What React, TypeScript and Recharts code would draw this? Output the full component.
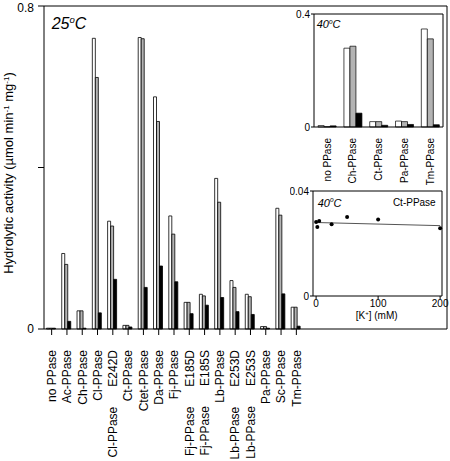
import React from "react";
import {BarChart, Bar, XAxis, YAxis, ScatterChart, Scatter} from "recharts";

// main panel, 25 C
const categories = [
	"no PPase", "Ac-PPase", "Ch-PPase", "Cl-PPase", "Cl-PPase E242D", "Ct-PPase", "Ctet-PPase", "Da-PPase", "Fj-PPase",
	"Fj-PPase E185D", "Fj-PPase E185S", "Lb-PPase", "Lb-PPase E253D", "Lb-PPase E253S", "Pa-PPase", "Sc-PPase", "Tm-PPase",
];
const openBars = [0.002, 0.187, 0.045, 0.72, 0.267, 0.009, 0.722, 0.575, 0.28, 0.066, 0.086, 0.373, 0.12, 0.086, 0.006, 0.299, 0.054];
const greyBars = [0.002, 0.16, 0.045, 0.623, 0.255, 0.009, 0.719, 0.514, 0.235, 0.066, 0.082, 0.314, 0.103, 0.08, 0.006, 0.282, 0.054];
const blackBars = [0.002, 0.019, 0.002, 0.04, 0.123, 0.005, 0.103, 0.156, 0.117, 0.038, 0.059, 0.078, 0.043, 0.036, 0.002, 0.087, 0.007];
const mainTicks = [0, 0.4, 0.8];

// inset, 40 C
const insetCategories = ["no PPase", "Ch-PPase", "Ct-PPase", "Pa-PPase", "Tm-PPase"];
const insetOpen = [0.005, 0.279, 0.019, 0.021, 0.347];
const insetGrey = [0.001, 0.286, 0.019, 0.019, 0.312];
const insetBlack = [0.004, 0.049, 0.006, 0.009, 0.008];
const insetTicks = [0, 0.4];

// inset, Ct-PPase vs [K+]
const kConc = [0, 2, 5, 25, 50, 100, 200];
const ctActivity = [0.0282, 0.0263, 0.0286, 0.0273, 0.0301, 0.0291, 0.0258];
const fitConc = [0, 200];
const fitActivity = [0.028, 0.0268];
const ctTicksX = [0, 100, 200];
const ctTicksY = [0, 0.04];

const FONT = '"Liberation Sans", Arial, Helvetica, sans-serif';
const GREY = "#b3b3b3";

const mainData = categories.map((name, i) => ({name, a: openBars[i], b: greyBars[i], c: blackBars[i]}));
const insetData = insetCategories.map((name, i) => ({name, a: insetOpen[i], b: insetGrey[i], c: insetBlack[i]}));
const ctPoints = kConc.map((k, i) => ({k, v: ctActivity[i]}));
const ctFit = fitConc.map((k, i) => ({k, v: fitActivity[i]}));

function spaced(name: string) {
	return name.replace(" E", "\u00a0".repeat(6) + "E");
}

function RotTick(props: any) {
	const {x, y, payload, size, shift} = props;
	return (
		<text
			transform={`translate(${x + shift},${y}) rotate(-90)`}
			textAnchor='end'
			fontSize={size}
			fill='#000'
			fontFamily={FONT}
		>
			{spaced(String(payload.value))}
		</text>
	);
}

function Deg({size}: {size: number}) {
	return (
		<>
			<tspan
				dy={-size * 0.4}
				fontSize={size * 0.6}
			>
				o
			</tspan>
			<tspan dy={size * 0.4}>C</tspan>
		</>
	);
}

const bars = (w: number) => [
	<Bar key='a' dataKey='a' fill='#fff' stroke='#000' strokeWidth={w} isAnimationActive={false} />,
	<Bar key='b' dataKey='b' fill={GREY} stroke='#000' strokeWidth={w} isAnimationActive={false} />,
	<Bar key='c' dataKey='c' fill='#000' stroke='#000' strokeWidth={w} isAnimationActive={false} />,
];

// top and right axes only draw the box around each panel
const frame = (numeric: boolean) => [
	<XAxis
		key='ft'
		xAxisId='top'
		orientation='top'
		type={numeric ? "number" : "category"}
		dataKey={numeric ? undefined : "name"}
		domain={numeric ? [0, 1] : undefined}
		height={1}
		tick={false}
		tickLine={false}
		stroke='#000'
	/>,
	<YAxis
		key='fr'
		yAxisId='right'
		orientation='right'
		type='number'
		domain={[0, 1]}
		width={1}
		tick={false}
		tickLine={false}
		stroke='#000'
	/>,
];

export default function App() {
	return (
		<div style={{position: "absolute", left: 0, top: 0, width: 450, height: 461, background: "#fff", fontFamily: FONT}}>
			<div style={{position: "absolute", left: 0, top: 0}}>
				<BarChart
					width={450}
					height={461}
					data={mainData}
					margin={{top: 5, right: 2, bottom: 0, left: 0}}
					barCategoryGap='16%'
					barGap={0}
				>
					<XAxis
						dataKey='name'
						interval={0}
						height={132}
						padding={{left: 0, right: 143}}
						stroke='#000'
						tickSize={6}
						tickMargin={15}
						tick={(p: any) => <RotTick {...p} size={12} shift={4.3} />}
					/>
					<YAxis
						domain={[0, 0.8]}
						ticks={mainTicks}
						width={44}
						stroke='#000'
						tickSize={6}
						tickMargin={4}
						tick={{fill: "#000", fontSize: 12}}
						tickFormatter={(v: number) => (v === 0.4 ? "" : String(v))}
					/>
					{frame(false)}
					{bars(0.8)}
				</BarChart>
			</div>

			<div style={{position: "absolute", left: 290, top: 0}}>
				<BarChart
					width={160}
					height={185}
					data={insetData}
					margin={{top: 13, right: 6, bottom: 0, left: 0}}
					barCategoryGap='16%'
					barGap={0}
				>
					<XAxis
						dataKey='name'
						interval={0}
						height={58}
						stroke='#000'
						tickLine={false}
						tickSize={0}
						tickMargin={11}
						tick={(p: any) => <RotTick {...p} size={10} shift={3.6} />}
					/>
					<YAxis
						domain={[0, 0.4]}
						ticks={insetTicks}
						width={24}
						stroke='#000'
						tickSize={3}
						tickMargin={1}
						tick={{fill: "#000", fontSize: 10}}
					/>
					{frame(false)}
					{bars(0.7)}
				</BarChart>
			</div>

			<div style={{position: "absolute", left: 290, top: 180}}>
				<ScatterChart
					width={160}
					height={145}
					margin={{top: 10, right: 7, bottom: 0, left: 0}}
				>
					<XAxis
						type='number'
						dataKey='k'
						domain={[-5, 203]}
						ticks={ctTicksX}
						height={29}
						stroke='#000'
						tickSize={3}
						tickMargin={1}
						tick={{fill: "#000", fontSize: 10}}
					/>
					<YAxis
						type='number'
						dataKey='v'
						domain={[0, 0.04]}
						ticks={ctTicksY}
						width={23}
						stroke='#000'
						tickSize={3}
						tickMargin={1}
						tick={{fill: "#000", fontSize: 10}}
					/>
					{frame(true)}
					<Scatter
						data={ctFit}
						line={{stroke: "#555", strokeWidth: 1}}
						shape={() => <g />}
						isAnimationActive={false}
					/>
					<Scatter
						data={ctPoints}
						fill='#000'
						shape={(p: any) => (
							<circle
								cx={p.cx}
								cy={p.cy}
								r={2}
								fill='#000'
							/>
						)}
						isAnimationActive={false}
					/>
				</ScatterChart>
			</div>

			<svg
				width={450}
				height={461}
				style={{position: "absolute", left: 0, top: 0, pointerEvents: "none"}}
				fontFamily={FONT}
			>
				<text transform='translate(12.5,173) rotate(-90)' textAnchor='middle' fontSize={13}>
					Hydrolytic activity (µmol min
					<tspan dy={-4} fontSize={8}>-1</tspan>
					<tspan dy={4}> mg</tspan>
					<tspan dy={-4} fontSize={8}>-1</tspan>
					<tspan dy={4}>)</tspan>
				</text>
				<text x={51.7} y={29.3} fontSize={16} fontStyle='italic'>
					25
					<Deg size={16} />
				</text>
				<text x={316.7} y={28.3} fontSize={11} fontStyle='italic'>
					40
					<Deg size={11} />
				</text>
				<text x={317.7} y={206.5} fontSize={11} fontStyle='italic'>
					40
					<Deg size={11} />
				</text>
				<text x={435.7} y={206} fontSize={10} textAnchor='end'>
					Ct-PPase
				</text>
				<text x={376.7} y={318.5} fontSize={10} textAnchor='middle'>
					[K
					<tspan dy={-4} fontSize={6}>+</tspan>
					<tspan dy={4}>] (mM)</tspan>
				</text>
			</svg>
		</div>
	);
}
